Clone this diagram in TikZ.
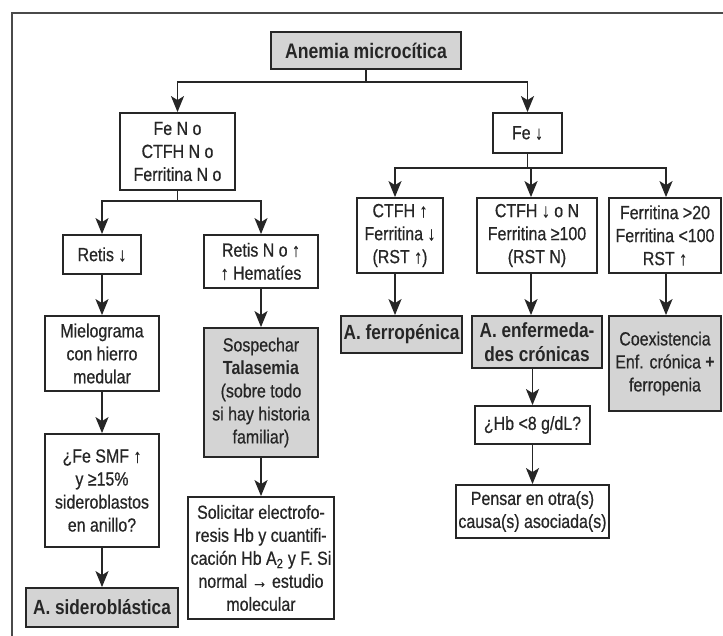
\documentclass[tikz,border=0pt]{standalone}
\usepackage{fontspec}
\setmainfont{Liberation Sans}[FakeStretch=0.84, UprightFeatures={FakeBold=0.6}]
\usetikzlibrary{arrows.meta}

\definecolor{ink}{HTML}{262626}
\definecolor{boxgray}{HTML}{D4D4D4}
\definecolor{framegray}{HTML}{4A4A4A}

\tikzset{
  box/.style={draw=ink, line width=1.8pt, fill=white, text=ink, align=center,
    inner sep=2pt, font=\fontsize{19}{23}\selectfont},
  keybox/.style={box, fill=boxgray},
  keytitle/.style={font=\fontsize{20.5}{24}\selectfont\bfseries},
  arr/.style={draw=ink, line width=1.8pt, -{Stealth[length=16pt,width=13pt,inset=4pt]}},
  link/.style={draw=ink, line width=1.8pt},
  sz/.style n args={2}{minimum width=#1pt, minimum height=#2pt},
}

\begin{document}
\begin{tikzpicture}[x=1pt, y=-1pt]
\useasboundingbox (0,0) rectangle (723,636);

% open frame: top and left edges only
\draw[framegray, line width=1.8pt] (723,13.3) -- (12,13.3) -- (12,636);

% boxes
\node[keybox, sz={190}{37}, font=\fontsize{21}{24}\selectfont\bfseries] (anemia) at (366,50.5) {Anemia microcítica};
\node[box, sz={115}{77}] (feN) at (177.5,151.5) {Fe N o\\CTFH N o\\Ferritina N o};
\node[box, sz={69}{40}] (fedown) at (527.5,133) {Fe ↓};
\node[box, sz={78}{39}] (retis) at (102,254.5) {Retis ↓};
\node[box, sz={114}{53}] (retisN) at (261,261.5) {Retis N o ↑\\↑ Hematíes};
\node[box, sz={86}{75}] (ctfhup) at (400,235.5) {CTFH ↑\\Ferritina ↓\\(RST ↑)};
\node[box, sz={120}{75}] (ctfhdn) at (537,235.5) {CTFH ↓ o N\\Ferritina ≥100\\(RST N)};
\node[box, sz={112}{75}] (ferr20) at (665,235.5) {Ferritina >20\\Ferritina <100\\RST ↑};
\node[box, sz={114}{75}] (mielo) at (102,353.5) {Mielograma\\con hierro\\medular};
\node[box, sz={114}{113}] (fesmf) at (102,490.5) {¿Fe SMF ↑\\y ≥15\%\\sideroblastos\\en anillo?};
\node[keybox, keytitle, sz={152}{39}] (sidero) at (102,607.5) {A. sideroblástica};
\node[keybox, sz={114}{129}] (talas) at (261,392.5) {Sospechar\\\textbf{Talasemia}\\(sobre todo\\si hay historia\\familiar)};
\node[box, sz={146}{122}] (solic) at (261,558) {Solicitar electrofo-\\resis Hb y cuantifi-\\cación Hb A\textsubscript{2} y F. Si\\normal → estudio\\molecular};
\node[keybox, keytitle, sz={121}{37}] (ferrop) at (401.5,334.5) {A. ferropénica};
\node[keybox, keytitle, sz={130}{52}] (enfcr) at (537,342) {A. enfermeda-\\des crónicas};
\node[keybox, sz={112}{95}] (coex) at (665,363.5) {Coexistencia\\Enf. crónica \textbf{+}\\ferropenia};
\node[box, sz={115}{38}] (hb) at (532.5,425) {¿Hb <8 g/dL?};
\node[box, sz={153}{53}] (pensar) at (532.5,511.5) {Pensar en otra(s)\\causa(s) asociada(s)};

% branching points
\coordinate (s1) at (366,82);
\coordinate (s2) at (177.5,201);
\coordinate (s3) at (527.5,168);

% connectors
\draw[link] (anemia.south) -- (s1);
\draw[arr] (s1) -| (feN.north);
\draw[arr] (s1) -| (fedown.north);

\draw[link] (feN.south) -- (s2);
\draw[arr] (s2) -| (retis.north);
\draw[arr] (s2) -| (retisN.north);

\draw[link] (fedown.south) -- (s3);
\draw[arr] (s3) -| ([xshift=-5pt]ctfhup.north);
\draw[arr] (s3) -| ([xshift=-6pt]ctfhdn.north);
\draw[arr] (s3) -| ([xshift=1pt]ferr20.north);

\draw[arr] (retis) -- (mielo);
\draw[arr] (mielo) -- (fesmf);
\draw[arr] (fesmf) -- (sidero);
\draw[arr] (retisN) -- (talas);
\draw[arr] (talas) -- (solic);

\draw[arr] ([xshift=-5pt]ctfhup.south) -- ([xshift=-5pt]ctfhup.south |- ferrop.north);
\draw[arr] ([xshift=-6pt]ctfhdn.south) -- ([xshift=-6pt]ctfhdn.south |- enfcr.north);
\draw[arr] ([xshift=1pt]ferr20.south) -- ([xshift=1pt]ferr20.south |- coex.north);
\draw[arr] (enfcr.south -| hb.north) -- (hb.north);
\draw[arr] (hb) -- (pensar);
\end{tikzpicture}
\end{document}
